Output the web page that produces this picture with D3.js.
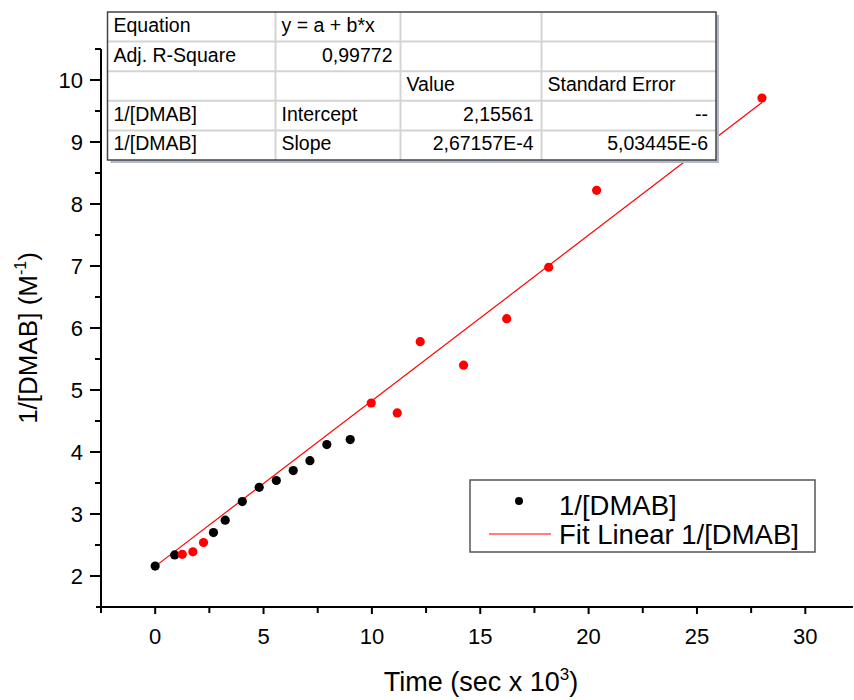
<!DOCTYPE html>
<html>
<head>
<meta charset="utf-8">
<script src="https://cdn.jsdelivr.net/npm/d3@7"></script>
<style>
  body { margin: 0; background: #fff; }
  svg { display: block; font-family: "Liberation Sans", Arial, sans-serif; }
</style>
</head>
<body>
<div id="plot1"></div>
<script>
// Data (time in 10^3 s, 1/[DMAB] in M^-1)
const blackX = [0, 0.9, 2.69, 3.23, 4.02, 4.80, 5.59, 6.37, 7.14, 7.92, 9.0];
const blackY = [2.16, 2.34, 2.70, 2.90, 3.20, 3.43, 3.54, 3.70, 3.86, 4.12, 4.20];
const redX = [1.25, 1.74, 2.23, 9.97, 11.17, 12.23, 14.23, 16.22, 18.16, 20.37, 28.0];
const redY = [2.35, 2.39, 2.54, 4.79, 4.63, 5.78, 5.40, 6.15, 6.98, 8.22, 9.71];

// Linear fit result (slope per second, rescaled to per 10^3 s below)
const intercept = 2.15561;
const slope = 2.67157e-4;
const fitRange = [0, 28];

const xTicks = [0, 5, 10, 15, 20, 25, 30];
const xMinor = [-2.5, 2.5, 7.5, 12.5, 17.5, 22.5, 27.5];
const yTicks = [2, 3, 4, 5, 6, 7, 8, 9, 10];
const yMinor = [2.5, 3.5, 4.5, 5.5, 6.5, 7.5, 8.5, 9.5, 10.5];

// Fit table contents
const tableRows = [
  ["Equation", "y = a + b*x", "", ""],
  ["Adj. R-Square", "0,99772", "", ""],
  ["", "", "Value", "Standard Error"],
  ["1/[DMAB]", "Intercept", "2,15561", "--"],
  ["1/[DMAB]", "Slope", "2,67157E-4", "5,03445E-6"]
];
const legendLabels = ["1/[DMAB]", "Fit Linear 1/[DMAB]"];

const width = 854, height = 700;

const svg = d3.select("#plot1")
  .append("svg")
  .attr("width", width)
  .attr("height", height);

// Scales
const x = d3.scaleLinear().domain([-2.5, 32.2]).range([101, 853]);
const y = d3.scaleLinear().domain([1.5, 10.5]).range([607, 49]);

// Axes
const xAxis = svg.append("g").attr("transform", `translate(0,${y(1.5)})`);
xAxis.append("line")
  .attr("x1", 96).attr("x2", 853)
  .attr("stroke", "#000").attr("stroke-width", 2);
xAxis.selectAll(".major")
  .data(xTicks).enter().append("line")
  .attr("x1", d => x(d)).attr("x2", d => x(d))
  .attr("y1", 0).attr("y2", 7)
  .attr("stroke", "#000").attr("stroke-width", 2);
xAxis.selectAll(".minor")
  .data(xMinor).enter().append("line")
  .attr("x1", d => x(d)).attr("x2", d => x(d))
  .attr("y1", 0).attr("y2", 6)
  .attr("stroke", "#000").attr("stroke-width", 2);
xAxis.selectAll("text")
  .data(xTicks).enter().append("text")
  .attr("x", d => x(d)).attr("y", 37)
  .attr("text-anchor", "middle")
  .style("font-size", "22px")
  .text(d => d);

const yAxis = svg.append("g").attr("transform", `translate(${x(-2.5)},0)`);
yAxis.append("line")
  .attr("y1", y(10.5)).attr("y2", y(1.5) + 1)
  .attr("stroke", "#000").attr("stroke-width", 2);
yAxis.selectAll(".major")
  .data(yTicks).enter().append("line")
  .attr("x1", 0).attr("x2", -11)
  .attr("y1", d => y(d)).attr("y2", d => y(d))
  .attr("stroke", "#000").attr("stroke-width", 2);
yAxis.selectAll(".minor")
  .data(yMinor).enter().append("line")
  .attr("x1", 0).attr("x2", -6)
  .attr("y1", d => y(d)).attr("y2", d => y(d))
  .attr("stroke", "#000").attr("stroke-width", 2);
yAxis.selectAll("text")
  .data(yTicks).enter().append("text")
  .attr("x", -18).attr("y", d => y(d))
  .attr("dy", "0.36em")
  .attr("text-anchor", "end")
  .style("font-size", "22px")
  .text(d => d);

// Axis titles
const xTitle = svg.append("text")
  .attr("x", 481).attr("y", 691)
  .attr("text-anchor", "middle")
  .style("font-size", "27px");
xTitle.append("tspan").text("Time (sec x 10");
xTitle.append("tspan").attr("dy", -11).style("font-size", "17px").text("3");
xTitle.append("tspan").attr("dy", 11).text(")");

const yTitle = svg.append("text")
  .attr("transform", "translate(37,338) rotate(-90)")
  .attr("text-anchor", "middle")
  .style("font-size", "26px");
yTitle.append("tspan").text("1/[DMAB] (M");
yTitle.append("tspan").attr("dy", -11).style("font-size", "16px").text("-1");
yTitle.append("tspan").attr("dy", 11).text(")");

// Fit line
const line = d3.line()
  .x(d => x(d))
  .y(d => y(intercept + slope * 1000 * d));
svg.append("path")
  .datum(fitRange)
  .attr("d", line)
  .attr("fill", "none")
  .attr("stroke", "#ff0000")
  .attr("stroke-width", 1.2);

// Points
svg.append("g")
  .selectAll("circle")
  .data(d3.zip(blackX, blackY))
  .enter().append("circle")
  .attr("cx", d => x(d[0])).attr("cy", d => y(d[1]))
  .attr("r", 4.6)
  .attr("fill", "#000");
svg.append("g")
  .selectAll("circle")
  .data(d3.zip(redX, redY))
  .enter().append("circle")
  .attr("cx", d => x(d[0])).attr("cy", d => y(d[1]))
  .attr("r", 4.6)
  .attr("fill", "#ff0000");

// Fit table
const colX = [107.5, 275.5, 400.5, 541.5, 716];
const rowH = 29.6, tableTop = 12;
const rightAligned = (r, c) => (r === 1 && c === 1) || (r >= 3 && c >= 2);
const table = svg.append("g");
const tableW = colX[4] - colX[0], tableH = rowH * tableRows.length;
table.append("rect")
  .attr("x", colX[0] + 3).attr("y", tableTop + 3)
  .attr("width", tableW).attr("height", tableH)
  .attr("fill", "#b4b8c8");
table.append("rect")
  .attr("x", colX[0]).attr("y", tableTop)
  .attr("width", tableW).attr("height", tableH)
  .attr("fill", "#fff");
// inner grid
for (let r = 1; r < tableRows.length; r++) {
  table.append("line")
    .attr("x1", colX[0]).attr("x2", colX[4])
    .attr("y1", tableTop + r * rowH).attr("y2", tableTop + r * rowH)
    .attr("stroke", "#d4d4d4").attr("stroke-width", 2);
}
for (let c = 1; c < 4; c++) {
  table.append("line")
    .attr("x1", colX[c]).attr("x2", colX[c])
    .attr("y1", tableTop).attr("y2", tableTop + tableH)
    .attr("stroke", "#d4d4d4").attr("stroke-width", 2);
}
table.append("rect")
  .attr("x", colX[0]).attr("y", tableTop)
  .attr("width", tableW).attr("height", tableH)
  .attr("fill", "none")
  .attr("stroke", "#444").attr("stroke-width", 1.5);
tableRows.forEach((row, r) => {
  row.forEach((cell, c) => {
    if (!cell) return;
    const right = rightAligned(r, c);
    table.append("text")
      .attr("x", right ? colX[c + 1] - 8 : colX[c] + 6)
      .attr("y", tableTop + r * rowH + 20)
      .attr("text-anchor", right ? "end" : "start")
      .style("font-size", "19.5px")
      .text(cell);
  });
});

// Legend
const legend = svg.append("g");
legend.append("rect")
  .attr("x", 470).attr("y", 480)
  .attr("width", 345).attr("height", 72)
  .attr("fill", "#fff")
  .attr("stroke", "#555").attr("stroke-width", 1.5);
legend.append("circle")
  .attr("cx", 519).attr("cy", 501).attr("r", 4)
  .attr("fill", "#000");
legend.append("line")
  .attr("x1", 489).attr("x2", 551)
  .attr("y1", 534).attr("y2", 534)
  .attr("stroke", "#ff0000").attr("stroke-width", 1.2);
legend.selectAll("text")
  .data(legendLabels).enter().append("text")
  .attr("x", 559)
  .attr("y", (d, i) => 515 + i * 29)
  .style("font-size", "27.5px")
  .text(d => d);
</script>
</body>
</html>
